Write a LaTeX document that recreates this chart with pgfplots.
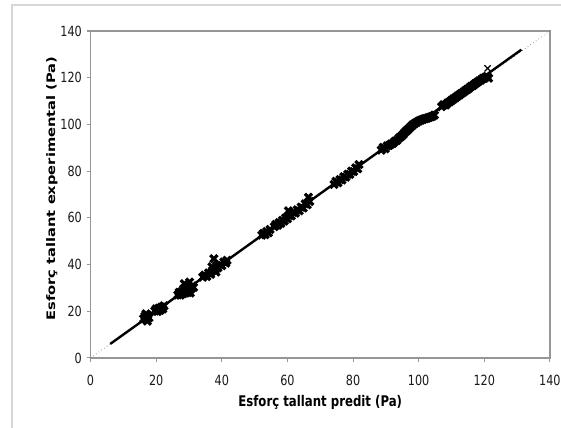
\documentclass[border=0pt]{standalone}
\usepackage{fontspec}
\setmainfont[FakeStretch=0.8]{DejaVu Sans}
\newfontfamily\yfont{DejaVu Sans}
\usepackage{graphicx}
\usepackage{pgfplots}
\pgfplotsset{compat=1.18}
\definecolor{axgray}{RGB}{150,150,150}
\definecolor{framegray}{RGB}{215,215,215}
\begin{document}
\begin{tikzpicture}
\useasboundingbox (-67.9pt,-52.5pt) rectangle (352.9pt,268.5pt);
\draw[framegray,line width=1.5pt] (-58.9pt,-80pt) -- (-58.9pt,264.75pt) -- (400pt,264.75pt);
\begin{axis}[
  at={(0,0)}, anchor=south west,
  scale only axis,
  width=344.6pt, height=245.25pt,
  xmin=0, xmax=140, ymin=0, ymax=140,
  xtick={0,20,...,140}, ytick={0,20,...,140},
  axis line style={axgray, line width=1pt},
  tick style={axgray, line width=0.8pt},
  major tick length=3pt,
  tick align=outside,
  xtick pos=bottom, ytick pos=left,
  /pgf/number format/assume math mode=true,
  tick label style={font=\fontsize{10.5}{12}\selectfont, text=black!90},
  xticklabel style={anchor=base, yshift=-17.3pt},
  xlabel={Esforç tallant predit (Pa)},
  ylabel={\scalebox{1}[0.8]{\yfont\bfseries Esforç tallant experimental (Pa)}},
  xlabel style={font=\fontsize{11}{13}\selectfont\bfseries, at={(axis description cs:0.5,0)}, anchor=center, yshift=-33.75pt},
  ylabel style={font=\fontsize{11}{13}\selectfont, at={(axis description cs:-0.084,0.518)}, anchor=center},
  clip=false,
]
\addplot[black!60, dotted, line width=0.5pt] coordinates {(0,0) (140,140)};
\addplot[only marks, mark=x, mark size=3.8pt, mark options={line width=2.4pt, black}] coordinates {
(16.2,16.8) (16.6,17.9) (17.0,16.5) (17.4,18.3) (17.8,17.2) (16.9,18.9) (17.3,15.8)
(19.6,20.1) (20.0,21.0) (20.4,19.9) (20.8,21.3) (21.2,20.4) (21.6,21.8) (22.0,21.0) (22.4,22.3)
(26.6,27.0) (27.0,28.1) (27.4,26.9) (27.8,28.4) (28.2,27.5) (28.6,31.8) (29.0,28.3) (29.4,30.6)
(29.8,29.0) (30.2,32.5) (30.6,29.5) (31.0,30.8) (31.4,30.2) (28.4,29.6) (29.6,28.0) (30.4,27.8)
(34.2,34.6) (34.8,35.5) (35.4,34.9) (36.0,36.4) (36.6,35.8) (37.2,37.5) (37.6,42.5) (38.0,37.9)
(38.4,39.5) (38.8,38.6) (39.4,40.0) (40.0,39.5) (40.6,41.1) (41.2,40.6) (41.6,41.8) (37.0,39.0) (38.2,36.8)
(52.2,52.6) (52.7,53.4) (53.2,52.8) (53.7,54.1) (54.2,53.6) (54.7,55.0)
(56.0,56.2) (56.5,57.2) (57.0,56.8) (57.5,58.0) (58.0,57.6) (58.5,58.9) (59.0,58.6) (59.5,60.0)
(60.0,59.6) (60.3,63.0) (60.6,61.0) (61.2,60.8) (61.8,62.3) (62.4,62.0) (63.0,63.4) (63.6,63.0)
(64.2,64.6) (64.8,64.2) (65.4,66.0) (66.0,65.6) (66.4,68.8) (66.8,67.0)
(74.2,74.3) (74.8,75.6) (75.4,75.0) (76.0,76.4) (76.6,76.2) (77.2,77.6) (77.8,77.4) (78.4,78.7)
(79.0,78.6) (79.6,80.0) (80.2,79.8) (80.8,81.4) (81.4,81.0) (81.8,82.8)
(88.6,89.0) (89.2,90.2) (89.8,89.6) (90.4,90.8) (91.0,91.0) (91.6,91.6) (92.2,92.0) (92.8,92.8)
(93.4,93.2) (94.0,94.2) (94.6,94.8) (95.2,95.6) (95.8,96.6) (96.4,97.4) (97.0,98.2) (97.6,99.0)
(98.2,99.8) (98.8,100.4) (99.4,100.9) (100.0,101.4) (100.6,101.8) (101.2,102.1) (101.8,102.4)
(102.4,102.6) (103.0,102.9) (103.6,103.2) (104.2,103.5) (104.8,104.0)
(107.0,107.6) (107.6,108.4) (108.2,108.3) (108.8,109.2) (109.4,109.6) (110.0,110.3) (110.6,110.9)
(111.2,111.4) (111.8,112.1) (112.4,112.6) (113.0,113.3) (113.6,113.8) (114.2,114.4) (114.8,115.0)
(115.4,115.6) (116.0,116.3) (116.6,116.7) (117.2,117.4) (117.8,118.0) (118.4,118.6) (119.0,119.0)
(119.6,119.7) (120.2,120.0) (120.8,120.6) (121.3,119.8)
};
\addplot[only marks, mark=x, mark size=3.3pt, mark options={line width=1pt, black}] coordinates {(121.0,124.0)};
\addplot[black, line width=1.8pt] coordinates {(6,6) (131.3,132)};
\end{axis}
\end{tikzpicture}
\end{document}
